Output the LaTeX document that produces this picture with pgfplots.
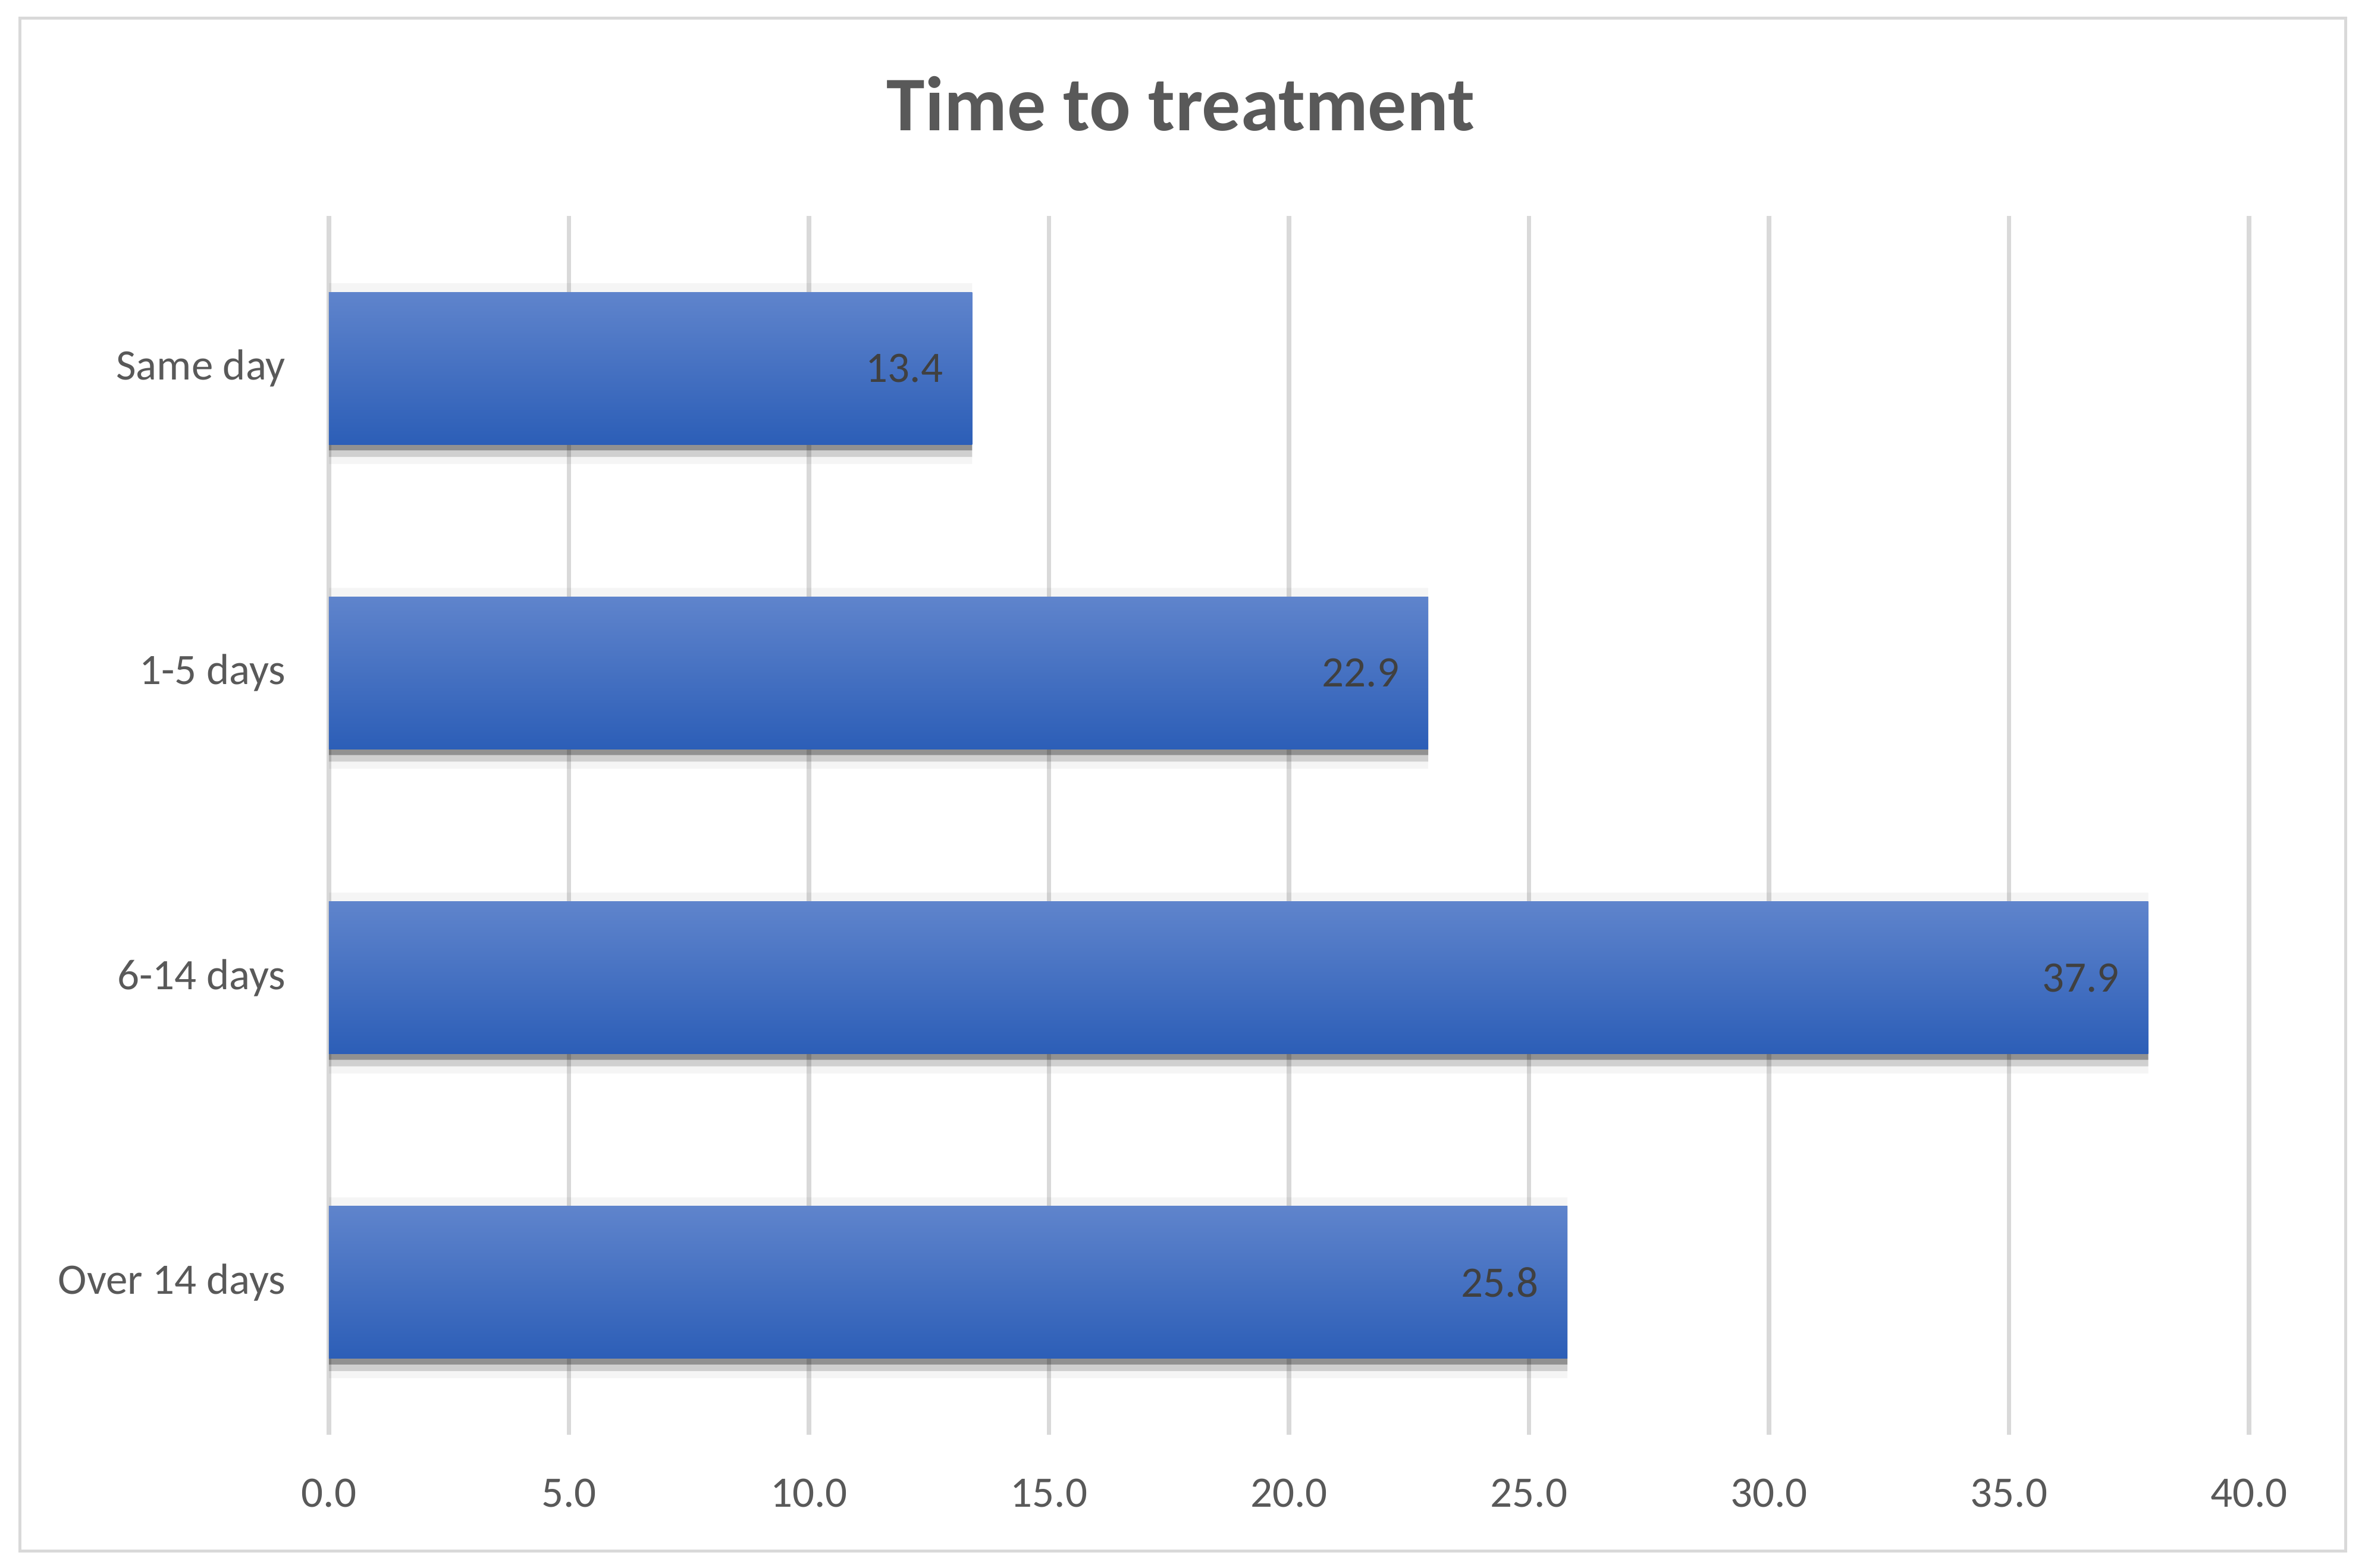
\documentclass[border=0pt]{standalone}
\usepackage{fontspec}
\setmainfont{Carlito}
\usepackage{pgfplots}
\usepackage{pgfplotstable}
\pgfplotsset{compat=1.18}
\definecolor{gridgray}{RGB}{217,217,217}
\definecolor{labgray}{RGB}{89,89,89}
\definecolor{valgray}{RGB}{64,64,64}
\definecolor{bartop}{RGB}{95,132,204}
\definecolor{barbot}{RGB}{44,94,183}
\pgfplotstableread{
y val
3 13.4
2 22.9
1 37.9
0 25.8
}\datatable
\pgfplotsset{
  mainbar/.style={xbar, draw=none, top color=bartop, bottom color=barbot, bar shift=0pt, bar width=25.6pt,
    point meta=x,
    nodes near coords={\pgfmathprintnumber[fixed,fixed zerofill,precision=1]{\pgfplotspointmeta}},
    every node near coord/.append style={anchor=east, xshift=-4.7pt, inner sep=0pt, font=\fontsize{7.3}{8.8}\selectfont, text=valgray}},
}
\begin{document}
\begin{tikzpicture}
\useasboundingbox (0,0) rectangle (398.1pt,263.5pt);
\fill[white] (0,0) rectangle (398.1pt,263.5pt);
\draw[gridgray, line width=0.5pt] (3.3pt,2.8pt) rectangle (394.3pt,260.5pt);
\node[anchor=base, font=\fontsize{13}{15}\selectfont\bfseries, text=labgray, inner sep=0pt] at (198.5pt,241.6pt) {Time to treatment};
\begin{axis}[
  at={(55.3pt,22.3pt)}, anchor=south west,
  scale only axis, width=322.8pt, height=204.9pt,
  xmin=0, xmax=40, ymin=-0.5, ymax=3.5,
  xtick={0,5,...,40}, ytick={0,1,2,3},
  yticklabels={Over 14 days,6-14 days,1-5 days,Same day},
  axis lines*=left, axis line style={draw=none},
  major tick length=0pt,
  xmajorgrids, major grid style={gridgray, line width=0.75pt},
  /pgf/number format/assume math mode=true,
  x tick label style={/pgf/number format/fixed, /pgf/number format/fixed zerofill, /pgf/number format/precision=1},
  tick label style={font=\fontsize{7.3}{8.8}\selectfont, text=labgray},
  xticklabel style={anchor=base, yshift=-12.1pt, inner sep=0pt},
  yticklabel style={anchor=east, inner sep=0pt, xshift=-7.1pt},
]
\addplot[xbar, fill=black, fill opacity=0.04, draw=none, bar shift=-0.9pt, bar width=30.4pt, forget plot] table[x=val,y=y]{\datatable};
\addplot[xbar, fill=black, fill opacity=0.15, draw=none, bar shift=-1.05pt, bar width=27.7pt, forget plot] table[x=val,y=y]{\datatable};
\addplot[xbar, fill=black, fill opacity=0.30, draw=none, bar shift=-0.5pt, bar width=26.6pt, forget plot] table[x=val,y=y]{\datatable};
\addplot[mainbar] coordinates {(13.4,3)};
\addplot[mainbar] coordinates {(22.9,2)};
\addplot[mainbar] coordinates {(37.9,1)};
\addplot[mainbar] coordinates {(25.8,0)};
\end{axis}
\end{tikzpicture}
\end{document}
